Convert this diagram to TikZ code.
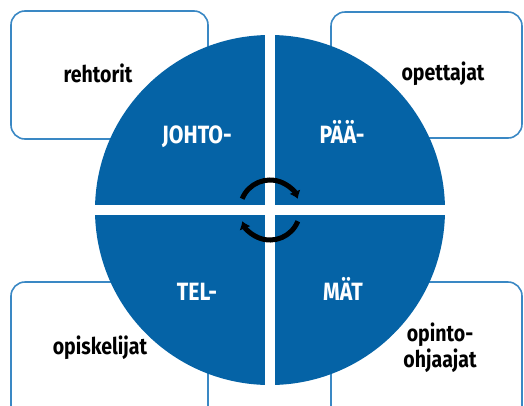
\documentclass[tikz,border=0pt]{standalone}
\usepackage{fontspec}
\setmainfont{Fira Sans}[FakeStretch=0.85]
\usetikzlibrary{arrows.meta}
\definecolor{kiekko}{HTML}{0563A6}
\definecolor{reuna}{HTML}{3A88C4}
\tikzset{
  laatikko/.style={draw=reuna, line width=1.6pt, rounded corners=14pt},
  ryhma/.style={font=\bfseries\fontsize{23}{26}\selectfont, text=black, anchor=base, align=center},
  osa/.style={font=\bfseries\fontsize{25}{28}\selectfont, text=white, anchor=base},
}
\begin{document}
\begin{tikzpicture}[x=1pt, y=1pt, >={Latex[length=7.5pt,width=12pt]}]
\clip (0,0) rectangle (524,-405);
\coordinate (K) at (270,-210);
\draw[laatikko] (11,-11) rectangle (208,-139);
\draw[laatikko] (331,-12) rectangle (522,-138);
\draw[laatikko] (11,-282) rectangle (208,-430);
\draw[laatikko] (331,-282) rectangle (522,-430);
\fill[kiekko] (K) circle (175);
\draw[white, line width=10pt] ([yshift=180]K) -- ([yshift=-180]K);
\draw[white, line width=10pt] ([xshift=-180]K) -- ([xshift=180]K);
\node[ryhma] (rehtorit) at (98,-82) {rehtorit};
\node[ryhma] (opettajat) at (443,-80) {opettajat};
\node[ryhma] (opiskelijat) at (100,-354) {opiskelijat};
\node[ryhma] (ohjaajat) at (440,-367) {opinto-\\ohjaajat};
\node[osa] (johto) at (197,-143) {JOHTO-};
\node[osa] (paa) at (342,-143) {PÄÄ-};
\node[osa] (tel) at (197,-300) {TEL-};
\node[osa] (mat) at (343,-300) {MÄT};
\draw[->, line width=5pt] ([shift={(158:30)}]K) arc[start angle=158, end angle=22, radius=30];
\draw[->, line width=5pt] ([shift={(-22:30)}]K) arc[start angle=-22, end angle=-158, radius=30];
\end{tikzpicture}
\end{document}
